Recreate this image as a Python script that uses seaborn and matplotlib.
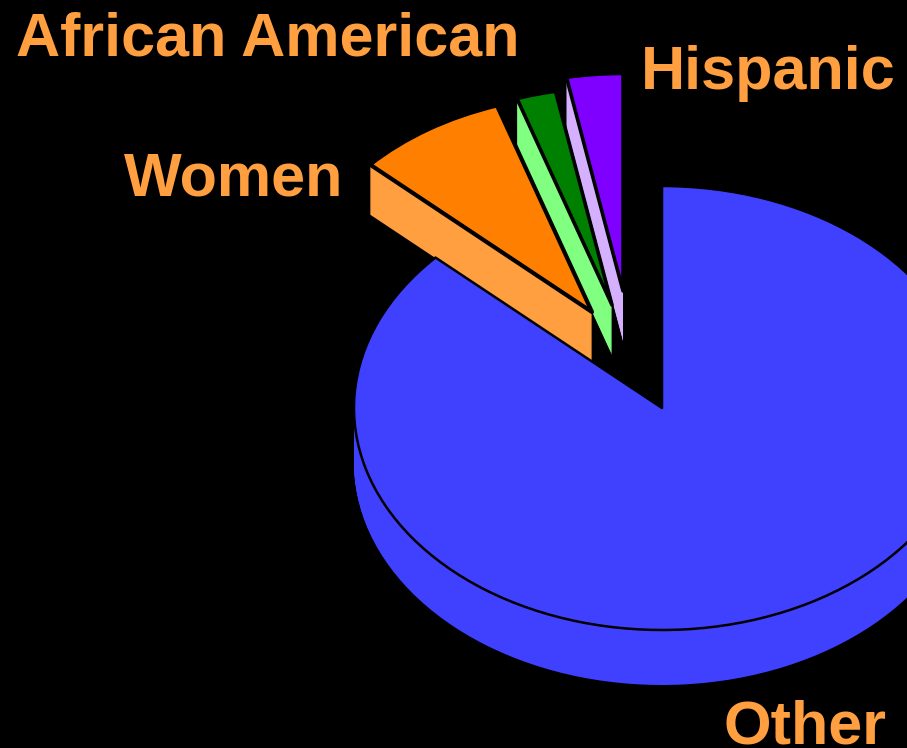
import matplotlib
matplotlib.use("Agg")
import matplotlib.pyplot as plt
import seaborn as sns
import numpy as np

# data (share of the total, percent), clockwise from 12 o'clock
groups = ["Other", "Women", "African American", "Hispanic"]
shares = [86.85, 8.05, 2.1, 3.0]

# styling
top_colors = ["#4040FF", "#FF8000", "#008000", "#8000FF"]
side_colors = ["#4040FF", "#FF9F40", "#80FF80", "#D4B0FF"]
label_color = "#FF9F40"
WIDTH, HEIGHT = 907, 748
CX, CY, RX, RY = 662, 408, 308, 222
# exploded offset of each slice, in pixels (right, up)
shift_px = [(0, 0), (-70, 96), (-50, 103), (-39, 117)]
depth_px = [55, 50, 50, 50]
edge_lw = [1.8, 3.0, 2.6, 2.6]
slice_radius = [1.0, 0.98, 0.98, 0.98]
draw_order = [3, 2, 1, 0]
label_pos = {"African American": (16, 55), "Women": (124, 195),
             "Hispanic": (641, 89), "Other": (724, 744)}

sns.set_theme(style="white", rc={"figure.facecolor": "black", "axes.facecolor": "black",
                                 "savefig.facecolor": "black"})
plt.rcParams["font.family"] = ["Liberation Sans", "DejaVu Sans"]

fig = plt.figure(figsize=(WIDTH / 100, HEIGHT / 100), dpi=100)
ax = fig.add_axes([0, 0, 1, 1])

fractions = np.array(shares) / sum(shares)
starts = 90 - 360 * np.concatenate([[0], np.cumsum(fractions)[:-1]])

for i in draw_order:
    dx, dy = shift_px[i][0] / RX, shift_px[i][1] / RY
    # extrusion: the slice repeated downward, one pixel at a time
    for d in range(depth_px[i], 0, -1):
        ax.pie([fractions[i]], normalize=False, startangle=starts[i], counterclock=False,
               center=(dx, dy - d / RY), colors=[side_colors[i]], radius=slice_radius[i],
               wedgeprops={"linewidth": 0, "edgecolor": side_colors[i]})
    ax.pie([fractions[i]], normalize=False, startangle=starts[i], counterclock=False,
           center=(dx, dy), colors=[top_colors[i]], radius=slice_radius[i],
           wedgeprops={"linewidth": edge_lw[i], "edgecolor": "black", "joinstyle": "round"})

ax.set_aspect("auto")
ax.set_xlim(-CX / RX, (WIDTH - CX) / RX)
ax.set_ylim(-(HEIGHT - CY) / RY, CY / RY)
ax.axis("off")

for name, (px, py) in label_pos.items():
    fig.text(px / WIDTH, 1 - py / HEIGHT, name, color=label_color, fontsize=44,
             fontweight="bold", ha="left", va="baseline")

fig.savefig("out.png", dpi=100)
